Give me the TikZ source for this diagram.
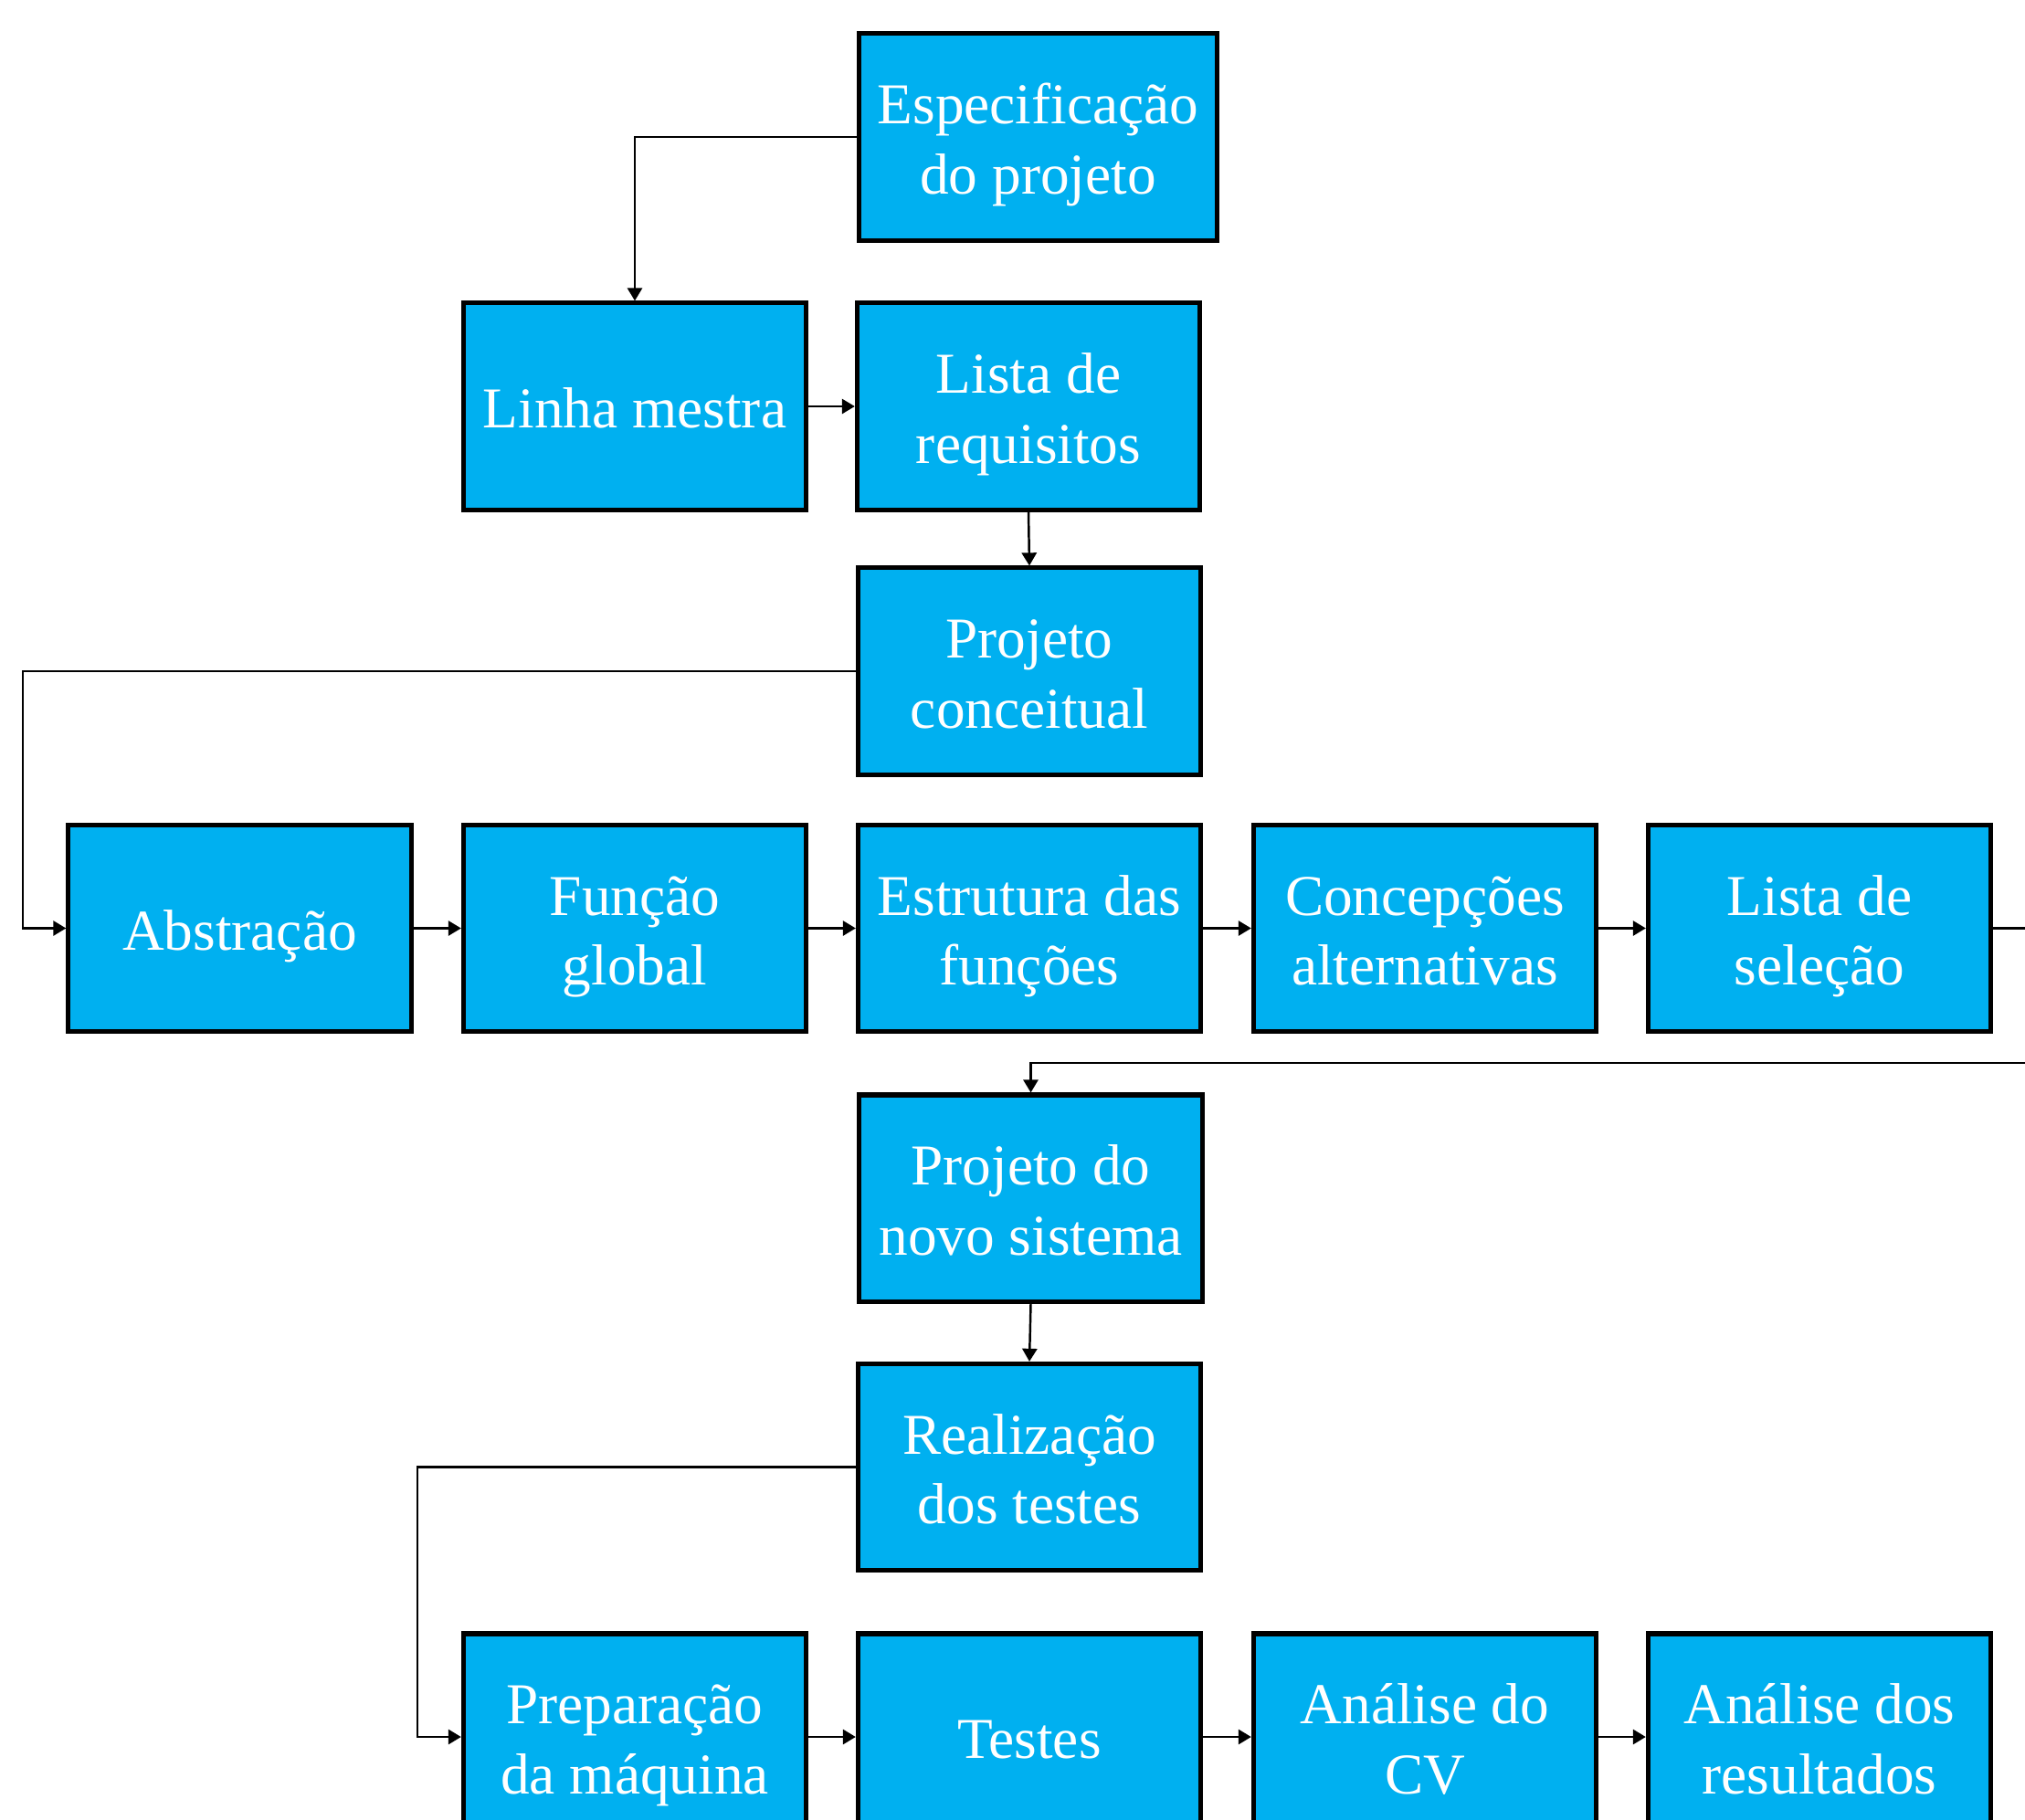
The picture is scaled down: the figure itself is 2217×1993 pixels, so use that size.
\documentclass[tikz,border=0pt]{standalone}
\usepackage{fontspec}
\setmainfont{Liberation Serif}
\usetikzlibrary{arrows.meta}
\definecolor{boxblue}{RGB}{0,176,240}
\newcommand\onel[1]{\raisebox{-0.235cm}[0pt][0pt]{#1}}
\newcommand\twol[2]{\raisebox{0.145cm}[0pt][0pt]{\begin{tabular}[t]{@{}c@{}}#1\\#2\end{tabular}}}
\begin{document}
\begin{tikzpicture}[x=0.01cm,y=-0.01cm,
  blk/.style={draw=black, line width=1.45pt, fill=boxblue, text=white,
    minimum width=3.75cm, minimum height=2.26cm, inner sep=0pt,
    font=\fontsize{18pt}{21.8pt}\selectfont},
  arr/.style={line width=0.7pt, -{Triangle[length=4pt,width=4.6pt]}},
  ln/.style={line width=0.7pt}]
\useasboundingbox (0,0) rectangle (2217,1993);
\clip (0,0) rectangle (2217,1993);
% nodes
\node[blk, minimum width=3.92cm] (espec) at (1136.5,150) {\twol{Especificação}{do projeto}};
\node[blk] (linha) at (695,445) {\onel{Linha mestra}};
\node[blk] (listareq) at (1126,445) {\twol{Lista de}{requisitos}};
\node[blk] (projconc) at (1127,735) {\twol{Projeto}{conceitual}};
\node[blk] (abs) at (262.5,1016.5) {\onel{Abstração}};
\node[blk] (func) at (695,1016.5) {\twol{Função}{global}};
\node[blk] (estr) at (1127,1016.5) {\twol{Estrutura das}{funções}};
\node[blk] (conc) at (1560,1016.5) {\twol{Concepções}{alternativas}};
\node[blk] (lsel) at (1992,1016.5) {\twol{Lista de}{seleção}};
\node[blk] (projnovo) at (1128.5,1312) {\twol{Projeto do}{novo sistema}};
\node[blk] (realiz) at (1127,1606.5) {\twol{Realização}{dos testes}};
\node[blk] (prep) at (695,1902) {\twol{Preparação}{da máquina}};
\node[blk] (testes) at (1127,1902) {\onel{Testes}};
\node[blk] (analcv) at (1560,1902) {\twol{Análise do}{CV}};
\node[blk] (analres) at (1992,1902) {\twol{Análise dos}{resultados}};
% helper coordinates
\coordinate (c1) at (25,0);
\coordinate (c2) at (457,0);
\coordinate (re1) at (2240,1016.5);
\coordinate (re2) at (2240,1164);
% connectors
\draw[arr] (espec.west) -| (linha.north);
\draw[arr] (linha.east) -- (listareq.west);
\draw[arr] (listareq.south) -- (projconc.north);
\draw[arr] (projconc.west) -- (projconc.west -| c1) |- (abs.west);
\draw[arr] (abs.east) -- (func.west);
\draw[arr] (func.east) -- (estr.west);
\draw[arr] (estr.east) -- (conc.west);
\draw[arr] (conc.east) -- (lsel.west);
\draw[ln] (lsel.east) -- (re1);
\draw[arr] (re2) -| (projnovo.north);
\draw[arr] (projnovo.south) -- (realiz.north);
\draw[arr] (realiz.west) -- (realiz.west -| c2) |- (prep.west);
\draw[arr] (prep.east) -- (testes.west);
\draw[arr] (testes.east) -- (analcv.west);
\draw[arr] (analcv.east) -- (analres.west);
\end{tikzpicture}
\end{document}
